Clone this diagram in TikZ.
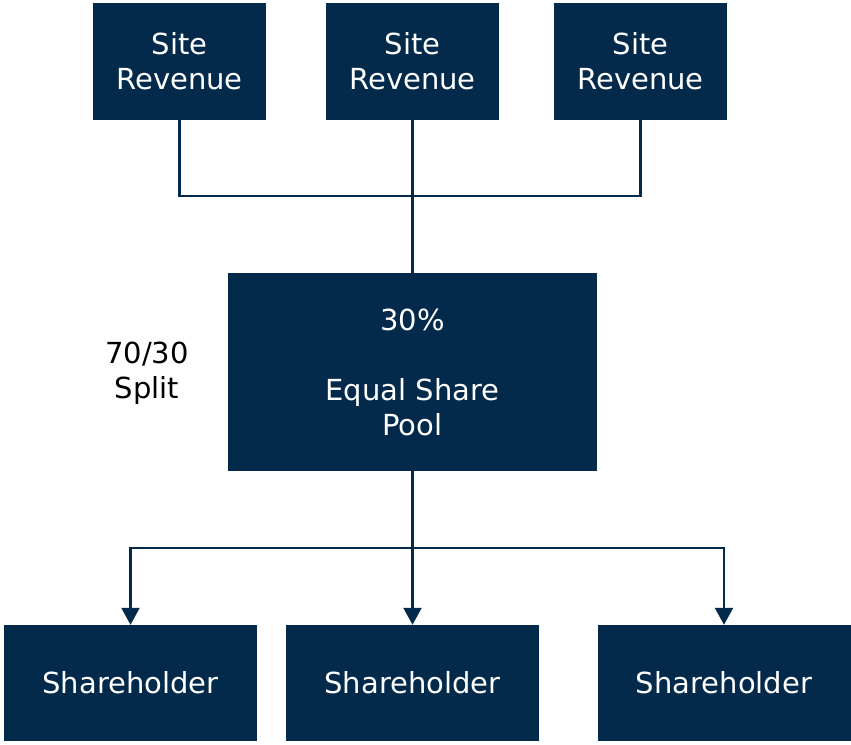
\documentclass[tikz,border=0pt]{standalone}
\usepackage{fontspec}
\setmainfont{DejaVu Sans}
\usetikzlibrary{arrows.meta}
\definecolor{navy}{RGB}{3,41,75}
\tikzset{
  box/.style={fill=navy, text=white, inner sep=0pt, align=center, font=\fontsize{29}{35}\selectfont},
  conn/.style={draw=navy, line width=2.2pt},
  arr/.style={conn, -{Triangle[width=18pt,length=17pt]}},
}
\begin{document}
\begin{tikzpicture}[x=1pt,y=-1pt]
\useasboundingbox (0,0) rectangle (851,744);
\node[box, minimum width=173pt, minimum height=117pt] (s1) at (179.5,61.5) {Site\\Revenue};
\node[box, minimum width=173pt, minimum height=117pt] (s2) at (412.5,61.5) {Site\\Revenue};
\node[box, minimum width=173pt, minimum height=117pt] (s3) at (640.5,61.5) {Site\\Revenue};
\node[box, minimum width=369pt, minimum height=198pt] (pool) at (412.5,372) {30\%\\[35pt]Equal Share\\Pool};
\node[align=center, font=\fontsize{29}{35}\selectfont, inner sep=0pt] (split) at (147,373) {70/30\\Split};
\node[box, minimum width=253pt, minimum height=116pt] (h1) at (130.5,683) {Shareholder};
\node[box, minimum width=253pt, minimum height=116pt] (h2) at (412.5,683) {Shareholder};
\node[box, minimum width=253pt, minimum height=116pt] (h3) at (724,683) {Shareholder};
\coordinate (j1) at (412.5,196);
\coordinate (j2) at (412.5,548);
\draw[conn] (s1.south) |- (j1) -| (s3.south);
\draw[conn] (s2.south) -- (pool.north);
\draw[conn] (pool.south) -- (j2);
\draw[arr] (j2) -| (h1.north);
\draw[arr] (j2) -| (h3.north);
\draw[arr] (j2) -- (h2.north);
\end{tikzpicture}
\end{document}
